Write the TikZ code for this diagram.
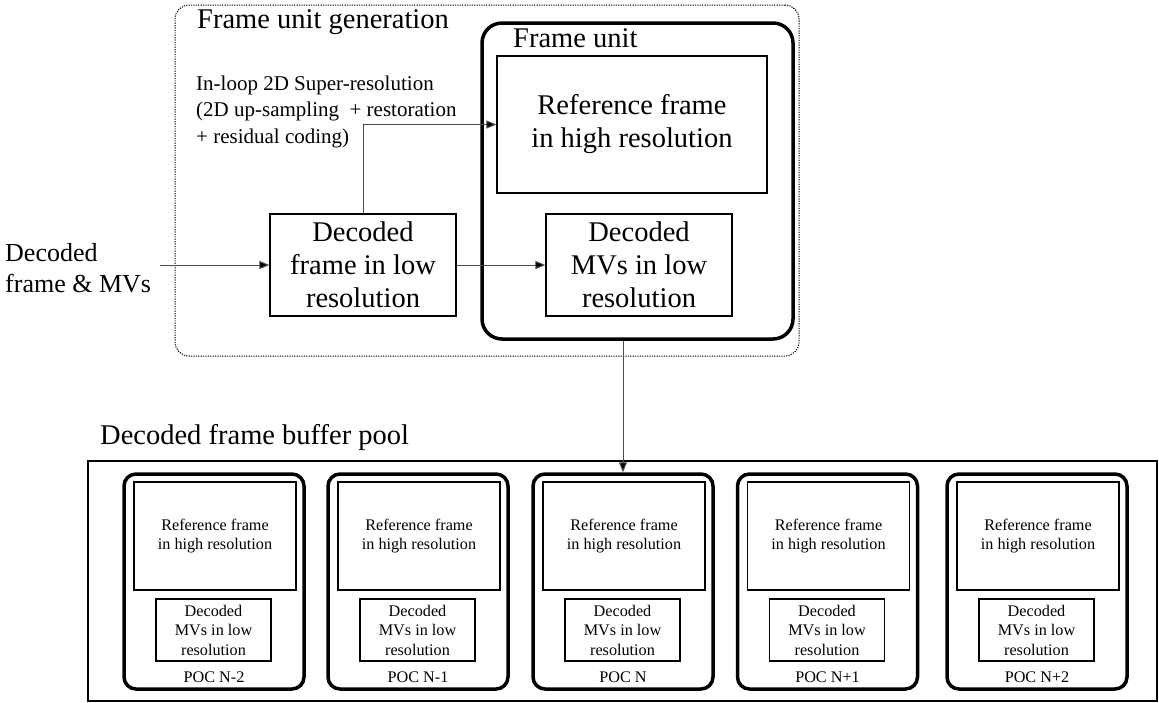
\documentclass[tikz,border=0pt]{standalone}
\usepackage{fontspec}
\setmainfont{Liberation Serif}
\usetikzlibrary{shapes, arrows.meta, positioning, calc}

\tikzset{
  bigtext/.style={font=\fontsize{28.5}{33}\selectfont},
  midtext/.style={font=\fontsize{21}{26.5}\selectfont},
  smalltext/.style={font=\fontsize{16.2}{19.5}\selectfont},
  plainbox/.style={draw, line width=1.3pt, inner sep=0pt, align=center},
  unitbox/.style={draw, line width=3.5pt, inner sep=0pt},
  flow/.style={draw=black!70, line width=1pt, -{Triangle[length=10pt,width=8pt,fill=black]}},
}

\begin{document}
\begin{tikzpicture}[x=1pt, y=-1pt]
  \useasboundingbox (0,0) rectangle (1159,702);

  % frame unit generation (top part)
  \node[draw, line width=1pt, dash pattern=on 1.2pt off 1.2pt, rounded corners=14pt,
        minimum width=624pt, minimum height=351pt] (gen) at (487,180.5) {};
  \node[bigtext, anchor=base west, inner sep=0pt] (gentitle) at (197,28) {Frame unit generation};

  \node[unitbox, rounded corners=20pt, minimum width=311pt, minimum height=316pt] (unit) at (637.5,181) {};
  \node[bigtext, anchor=base west, inner sep=0pt] (unittitle) at (513,47) {Frame unit};
  \node[plainbox, bigtext, minimum width=270pt, minimum height=137pt] (ref) at (632,124.5)
    {Reference frame\\in high resolution};
  \node[plainbox, bigtext, minimum width=186pt, minimum height=102pt] (mvs) at (639,265)
    {Decoded\\MVs in low\\resolution};

  \node[plainbox, bigtext, minimum width=186pt, minimum height=102pt] (dfr) at (363,265)
    {Decoded\\frame in low\\resolution};
  \node[midtext, anchor=base west, align=left, inner sep=0pt] (sr) at (196,143)
    {In-loop 2D Super-resolution\\(2D up-sampling~ + restoration\\+ residual coding)};

  \node[anchor=west, align=left, inner sep=0pt, font=\fontsize{26}{31}\selectfont] (input) at (5,268)
    {Decoded\\frame \& MVs};
  \coordinate (in) at (160,265);

  \draw[flow] (in) -- (dfr.west);
  \draw[flow] (dfr.east) -- (mvs.west);
  \draw[flow] (dfr.north) |- (ref.west);

  % decoded frame buffer pool (bottom part)
  \node[bigtext, anchor=base west, inner sep=0pt] (pooltitle) at (100,444) {Decoded frame buffer pool};
  \node[draw, line width=1.5pt, minimum width=1069pt, minimum height=240pt] (pool) at (622.5,581) {};

  \foreach \cx/\lab [count=\i] in {214/N-2, 418/N-1, 623/N, 827.5/N+1, 1037/N+2} {
    \node[unitbox, rounded corners=12pt, minimum width=180pt, minimum height=215pt] (poc\i) at (\cx,581.5) {};
    \node[plainbox, smalltext, minimum width=162pt, minimum height=108pt] (pref\i) at (\cx+1,536)
      {Reference frame\\in high resolution};
    \node[plainbox, smalltext, minimum width=115pt, minimum height=62pt] (pmv\i) at (\cx-0.5,630)
      {Decoded\\MVs in low\\resolution};
    \node[smalltext, anchor=base, inner sep=0pt] (plab\i) at (\cx,682) {POC \lab};
  }

  \draw[flow] (unit.south -| poc3.north) -- (poc3.north);
\end{tikzpicture}
\end{document}
